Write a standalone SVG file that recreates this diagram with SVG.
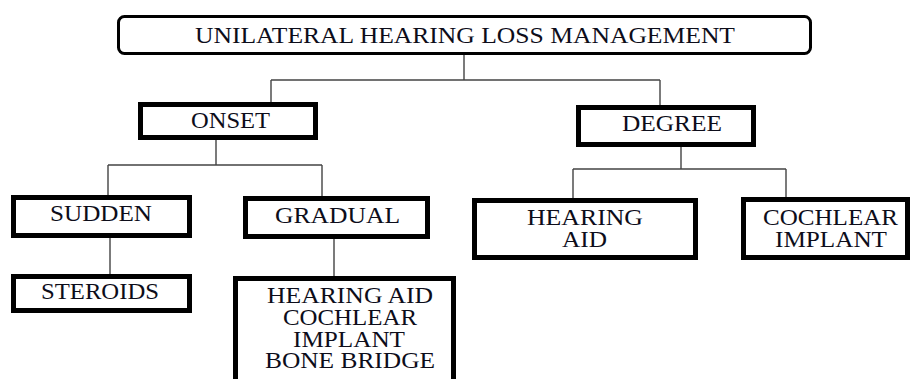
<svg xmlns="http://www.w3.org/2000/svg" width="910" height="379" viewBox="0 0 910 379">
<style>
.box{fill:#fff;stroke:#000;stroke-width:5}
.root{fill:#fff;stroke:#000;stroke-width:3}
.t{font-family:"Liberation Serif","Times New Roman",serif;font-size:22.5px;fill:#0d0d1a;text-anchor:start}
.c{fill:none;stroke:#444;stroke-width:1.4}
</style>
<rect width="910" height="379" fill="#fff"/>
<g id="connectors">
<path class="c" d="M464 55V80M271 80H660M271 80V102M660 80V105"/>
<path class="c" d="M216 140V165M108 165H322M108 165V195M322 165V196"/>
<path class="c" d="M681 147V169M573 169H786M573 169V198M786 169V197"/>
<path class="c" d="M110 238V274M334 239V276"/>
</g>
<g id="root">
<rect class="root" x="118.5" y="16.5" width="692" height="37" rx="6"/>
<text class="t" x="195" y="43" textLength="540" lengthAdjust="spacingAndGlyphs">UNILATERAL HEARING LOSS MANAGEMENT</text>
</g>
<g id="onset">
<rect class="box" x="140.5" y="104.5" width="175" height="33"/>
<text class="t" x="191" y="128" textLength="79" lengthAdjust="spacingAndGlyphs">ONSET</text>
</g>
<g id="degree">
<rect class="box" x="578.5" y="107.5" width="175" height="37"/>
<text class="t" x="622" y="131" textLength="100" lengthAdjust="spacingAndGlyphs">DEGREE</text>
</g>
<g id="sudden">
<rect class="box" x="13.5" y="197.5" width="176" height="38"/>
<text class="t" x="50" y="221" textLength="102" lengthAdjust="spacingAndGlyphs">SUDDEN</text>
</g>
<g id="steroids">
<rect class="box" x="13.5" y="276.5" width="176" height="34"/>
<text class="t" x="41" y="299" textLength="118" lengthAdjust="spacingAndGlyphs">STEROIDS</text>
</g>
<g id="gradual">
<rect class="box" x="245.5" y="198.5" width="182" height="38"/>
<text class="t" x="275" y="223" textLength="125" lengthAdjust="spacingAndGlyphs">GRADUAL</text>
</g>
<g id="gradual-options">
<rect class="box" x="235.5" y="278.5" width="218" height="130"/>
<text class="t" x="267" y="303" textLength="166" lengthAdjust="spacingAndGlyphs">HEARING AID</text>
<text class="t" x="283" y="325" textLength="134" lengthAdjust="spacingAndGlyphs">COCHLEAR</text>
<text class="t" x="293" y="347" textLength="112" lengthAdjust="spacingAndGlyphs">IMPLANT</text>
<text class="t" x="265" y="368" textLength="170" lengthAdjust="spacingAndGlyphs">BONE BRIDGE</text>
</g>
<g id="hearing-aid">
<rect class="box" x="474.5" y="200.5" width="221" height="57"/>
<text class="t" x="527" y="225" textLength="116" lengthAdjust="spacingAndGlyphs">HEARING</text>
<text class="t" x="562" y="247" textLength="45" lengthAdjust="spacingAndGlyphs">AID</text>
</g>
<g id="cochlear-implant">
<rect class="box" x="743.5" y="199.5" width="164" height="58"/>
<text class="t" x="763" y="225" textLength="135" lengthAdjust="spacingAndGlyphs">COCHLEAR</text>
<text class="t" x="775" y="247" textLength="112" lengthAdjust="spacingAndGlyphs">IMPLANT</text>
</g>
</svg>
